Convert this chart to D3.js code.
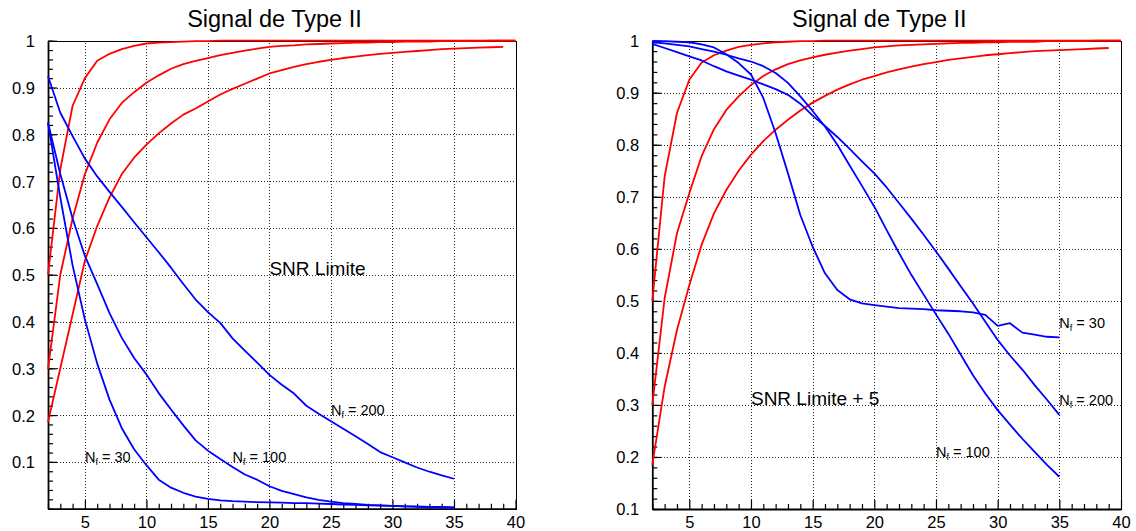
<!DOCTYPE html>
<html><head><meta charset="utf-8">
<script src="https://cdn.jsdelivr.net/npm/d3@7"></script>
<style>
body{margin:0;background:#fff;}
svg{display:block;font-family:"Liberation Sans",Arial,Helvetica,sans-serif;}
</style></head><body>
<svg id="c" width="1136" height="531"></svg>
<script>
// ---------- data ----------
const title = "Signal de Type II";
const snrBlue = [2,3,4,5,6,7,8,9,10,11,12,13,14,15,16,17,18,19,20,21,22,23,24,25,26,27,28,29,30,31,32,33,34,35];
const snrRed39 = [2,3,4,5,6,7,8,9,10,11,12,13,14,15,16,17,18,19,20,21,22,23,24,25,26,27,28,29,30,31,32,33,34,35,36,37,38,39];
const snrRed40 = [2,3,4,5,6,7,8,9,10,11,12,13,14,15,16,17,18,19,20,21,22,23,24,25,26,27,28,29,30,31,32,33,34,35,36,37,38,39,40];

// Left panel: "SNR Limite"
const leftRed1 = [0.50,0.725,0.861,0.920,0.957,0.972,0.982,0.989,0.994,0.996,0.997,0.998,0.999,0.999,1,1,1,1,1,1,1,1,1,1,1,1,1,1,1,1,1,1,1,1,1,1,1,1,1];
const leftRed2 = [0.298,0.50,0.62,0.715,0.782,0.832,0.867,0.89,0.910,0.926,0.940,0.950,0.957,0.963,0.969,0.974,0.979,0.983,0.987,0.989,0.990,0.992,0.993,0.994,0.995,0.996,0.996,0.997,0.997,0.998,0.998,0.998,0.999,0.999,0.999,0.999,1,1,1];
const leftRed3 = [0.185,0.30,0.415,0.53,0.604,0.665,0.715,0.75,0.778,0.802,0.823,0.842,0.855,0.87,0.885,0.897,0.908,0.919,0.930,0.937,0.944,0.950,0.955,0.959,0.963,0.966,0.969,0.972,0.974,0.976,0.978,0.980,0.982,0.983,0.984,0.985,0.986,0.987];
const leftBlue30  = [0.825,0.665,0.52,0.404,0.31,0.233,0.172,0.127,0.093,0.062,0.045,0.034,0.026,0.021,0.018,0.016,0.015,0.014,0.0135,0.013,0.012,0.012,0.011,0.010,0.009,0.008,0.007,0.0065,0.006,0.005,0.005,0.004,0.004,0.003];
const leftBlue100 = [0.825,0.715,0.62,0.54,0.48,0.418,0.365,0.322,0.287,0.247,0.212,0.178,0.146,0.124,0.106,0.089,0.073,0.062,0.048,0.038,0.031,0.024,0.019,0.015,0.012,0.010,0.008,0.007,0.006,0.005,0.004,0.003,0.003,0.002];
const leftBlue200 = [0.924,0.846,0.796,0.748,0.71,0.677,0.645,0.612,0.58,0.548,0.515,0.48,0.447,0.42,0.397,0.364,0.338,0.312,0.286,0.265,0.246,0.22,0.203,0.187,0.171,0.155,0.138,0.121,0.11,0.099,0.088,0.079,0.071,0.064];

// Right panel: "SNR Limite + 5"
const rightRed1 = [0.50,0.739,0.861,0.925,0.958,0.972,0.981,0.988,0.992,0.995,0.997,0.998,0.999,0.999,1,1,1,1,1,1,1,1,1,1,1,1,1,1,1,1,1,1,1,1,1,1,1,1,1];
const rightRed2 = [0.30,0.505,0.63,0.707,0.778,0.83,0.867,0.893,0.915,0.932,0.945,0.955,0.962,0.968,0.973,0.977,0.981,0.984,0.987,0.989,0.991,0.992,0.993,0.994,0.995,0.996,0.996,0.997,0.997,0.998,0.998,0.998,0.999,0.999,0.999,0.999,1,1,1];
const rightRed3 = [0.185,0.335,0.444,0.53,0.608,0.668,0.713,0.75,0.781,0.807,0.829,0.848,0.866,0.881,0.894,0.906,0.916,0.925,0.932,0.939,0.945,0.950,0.955,0.959,0.963,0.966,0.969,0.972,0.974,0.976,0.978,0.980,0.981,0.982,0.983,0.984,0.985,0.986];
const rightBlue30  = [0.999,0.999,0.998,0.997,0.993,0.987,0.974,0.957,0.935,0.89,0.822,0.745,0.665,0.604,0.553,0.521,0.503,0.495,0.492,0.489,0.486,0.485,0.484,0.482,0.481,0.480,0.478,0.473,0.452,0.457,0.439,0.435,0.431,0.430];
const rightBlue100 = [0.997,0.995,0.992,0.989,0.984,0.979,0.973,0.966,0.960,0.951,0.938,0.919,0.893,0.865,0.835,0.80,0.760,0.721,0.681,0.636,0.592,0.55,0.512,0.474,0.437,0.397,0.357,0.322,0.290,0.262,0.235,0.21,0.185,0.162];
const rightBlue200 = [0.994,0.986,0.978,0.970,0.962,0.951,0.941,0.933,0.925,0.916,0.907,0.896,0.879,0.856,0.836,0.815,0.792,0.768,0.745,0.718,0.688,0.658,0.627,0.595,0.562,0.528,0.495,0.46,0.425,0.395,0.368,0.338,0.31,0.281];

// ticks
const xTicks = [5,10,15,20,25,30,35,40];
const yTicks = [0.1,0.2,0.3,0.4,0.5,0.6,0.7,0.8,0.9,1];

// annotations  [text, subscript, rest, x, y, kind]
const leftNotes = [["SNR Limite","","",20,0.5,"big"],["N","f"," = 30",5,0.1,"n"],["N","f"," = 100",17,0.1,"n"],["N","f"," = 200",25,0.2,"n"]];
const rightNotes = [["SNR Limite + 5","","",10,0.3,"big"],["N","f"," = 30",35,0.447,"n"],["N","f"," = 200",35,0.3,"n"],["N","f"," = 100",25,0.2,"n"]];

// ---------- drawing ----------
const svg = d3.select("#c");
const panels = [
  {xr:[48,515.5], yd:[0,1], yr:[508.7,40.7],
   reds:[[snrRed40,leftRed1],[snrRed40,leftRed2],[snrRed39,leftRed3]],
   blues:[[snrBlue,leftBlue30],[snrBlue,leftBlue100],[snrBlue,leftBlue200]],
   notes:leftNotes, yMinorStart:0},
  {xr:[652.3,1121], yd:[0.1,1], yr:[509,40.7],
   reds:[[snrRed40,rightRed1],[snrRed40,rightRed2],[snrRed39,rightRed3]],
   blues:[[snrBlue,rightBlue30],[snrBlue,rightBlue100],[snrBlue,rightBlue200]],
   notes:rightNotes, yMinorStart:0.1}
];
const px = v => Math.round(v) + 0.5;

panels.forEach(p => {
  const x = d3.scaleLinear([2,40], p.xr);
  const y = d3.scaleLinear(p.yd, p.yr);
  const g = svg.append("g");
  const x0 = p.xr[0], x1 = p.xr[1], yb = p.yr[0], yt = p.yr[1];

  // grid
  const grid = g.append("g").attr("stroke","#000").attr("stroke-width",1)
    .attr("stroke-dasharray","1,2").attr("shape-rendering","crispEdges").attr("opacity",0.85);
  xTicks.filter(v=>v<40).forEach(v => grid.append("line").attr("x1",px(x(v))).attr("x2",px(x(v))).attr("y1",yb).attr("y2",yt));
  yTicks.filter(v=>v<1 && v>p.yd[0]).forEach(v => grid.append("line").attr("x1",x0).attr("x2",x1).attr("y1",px(y(v))).attr("y2",px(y(v))));

  // frame
  g.append("rect").attr("x",px(x0)).attr("y",px(yt)).attr("width",Math.round(x1-x0)).attr("height",Math.round(yb-yt))
    .attr("fill","none").attr("stroke","#000").attr("stroke-width",1).attr("shape-rendering","crispEdges");

  // minor ticks
  const xMinor = d3.range(2,41,1).filter(v=>v%5!==0);
  const yMinor = d3.range(Math.round(p.yMinorStart*100), 101, 2).map(v=>v/100);
  g.append("g").attr("transform",`translate(0,${yb})`)
    .call(d3.axisBottom(x).tickValues(xMinor).tickSize(-5).tickSizeOuter(0).tickFormat(""))
    .call(a=>a.select(".domain").remove())
    .call(a=>a.selectAll("line").attr("stroke-width",1.2));
  g.append("g").attr("transform",`translate(${x0},0)`)
    .call(d3.axisLeft(y).tickValues(yMinor).tickSize(-5).tickSizeOuter(0).tickFormat(""))
    .call(a=>a.select(".domain").remove())
    .call(a=>a.selectAll("line").attr("stroke-width",1.2));

  // major axes
  const xa = g.append("g").attr("transform",`translate(0,${yb})`)
    .call(d3.axisBottom(x).tickValues(xTicks).tickSize(-9).tickSizeOuter(0).tickPadding(7.5).tickFormat(d=>String(d)));
  const ya = g.append("g").attr("transform",`translate(${x0},0)`)
    .call(d3.axisLeft(y).tickValues(yTicks).tickSize(-9).tickSizeOuter(0).tickPadding(13).tickFormat(d=>String(d)));
  [xa,ya].forEach(a=>{
    a.selectAll("text").attr("font-size",16.5).attr("fill","#000").attr("font-family",'"Liberation Sans",Arial,sans-serif');
    a.selectAll(".tick line").attr("stroke-width",1.2);
    a.select(".domain").attr("stroke-width",1.8);
  });
  ya.selectAll("text").attr("dy","0.36em");

  // title
  svg.append("text").attr("x",(x0+x1)/2-7.3).attr("y",27).attr("text-anchor","middle")
    .attr("font-size",23.5).text(title);

  // curves
  const line = d3.line().x(d=>x(d[0])).y(d=>y(d[1]));
  const draw = (s,color) => {
    const pts = s[0].map((xv,i)=>[xv,s[1][i]]);
    g.append("path").attr("d",line(pts)).attr("fill","none").attr("stroke",color)
      .attr("stroke-width",1.8).attr("stroke-linejoin","round");
  };
  p.reds.forEach(s=>draw(s,"#ff0000"));
  p.blues.forEach(s=>draw(s,"#0000ff"));

  // notes
  p.notes.forEach(n => {
    const t = g.append("text").attr("x",x(n[3])).attr("y",y(n[4])).attr("fill","#000")
      .style("white-space","pre");
    if (n[5]==="big") {
      t.attr("font-size",19).text(n[0]);
    } else {
      t.attr("font-size",14.5);
      t.append("tspan").text(n[0]);
      t.append("tspan").attr("font-size",9).attr("dy",3).text(n[1]);
      t.append("tspan").attr("dy",-3).text(n[2]);
    }
  });
});
</script>
</body></html>
